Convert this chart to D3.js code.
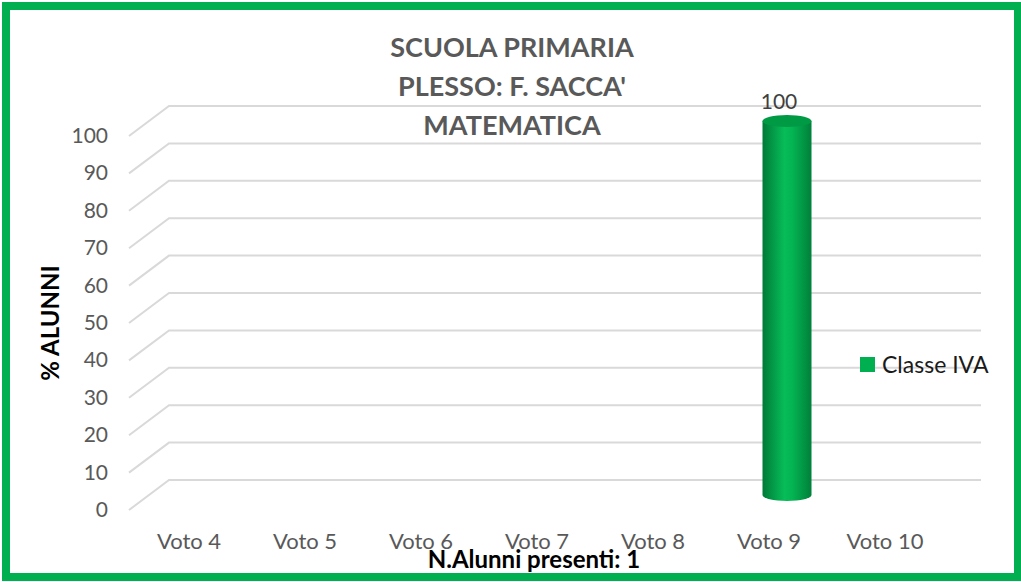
<!DOCTYPE html>
<html>
<head>
<meta charset="utf-8">
<script src="https://cdn.jsdelivr.net/npm/d3@7"></script>
<style>
  html, body { margin: 0; padding: 0; background: #fff; }
  svg { display: block; font-family: Lato, "Open Sans", sans-serif; }
</style>
</head>
<body>
<div id="chart"></div>
<script>
// data
var categories = ["Voto 4", "Voto 5", "Voto 6", "Voto 7", "Voto 8", "Voto 9", "Voto 10"];
var values = [null, null, null, null, null, 100, null];
var yTicks = [0, 10, 20, 30, 40, 50, 60, 70, 80, 90, 100];
var seriesName = "Classe IVA";
var titleLines = ["SCUOLA PRIMARIA", "PLESSO: F. SACCA'", "MATEMATICA"];
var yTitle = "% ALUNNI";
var xTitle = "N.Alunni presenti: 1";

var W = 1021, H = 582;
var depthX = 40, depthY = -30;   // 3d depth offset of the back wall

var svg = d3.select("#chart").append("svg").attr("width", W).attr("height", H);

var defs = svg.append("defs");
var grad = defs.append("linearGradient").attr("id", "cyl").attr("x1", "0%").attr("x2", "100%");
grad.append("stop").attr("offset", "0%").attr("stop-color", "#007a38");
grad.append("stop").attr("offset", "45%").attr("stop-color", "#06bd58");
grad.append("stop").attr("offset", "60%").attr("stop-color", "#04b553");
grad.append("stop").attr("offset", "100%").attr("stop-color", "#00803a");

// frame
svg.append("rect").attr("x", 6).attr("y", 6).attr("width", W - 9).attr("height", H - 11)
    .attr("fill", "none").attr("stroke", "#00b050").attr("stroke-width", 8);

var x = d3.scaleBand().domain(categories).range([129, 941]);
var y = d3.scaleLinear().domain([0, 100]).range([510, 136]);

// gridlines: diagonal on the side wall + horizontal on the back wall
var grid = svg.append("g");
yTicks.forEach(function(t) {
    grid.append("path")
        .attr("d", "M" + x.range()[0] + "," + y(t) +
                   "L" + (x.range()[0] + depthX) + "," + (y(t) + depthY) +
                   "L" + (x.range()[1] + depthX) + "," + (y(t) + depthY))
        .attr("fill", "none").attr("stroke", "#d9d9d9").attr("stroke-width", 2);
});

// y tick labels
svg.append("g").selectAll("text").data(yTicks).enter().append("text")
    .attr("x", 108).attr("y", function(d) { return y(d) + 7; })
    .attr("text-anchor", "end").attr("font-size", 21).attr("fill", "#595959")
    .text(function(d) { return d; });

// x labels
svg.append("g").selectAll("text").data(categories).enter().append("text")
    .attr("x", function(d) { return x(d) + x.bandwidth() / 2 + 2; }).attr("y", 549)
    .attr("text-anchor", "middle").attr("font-size", 22).attr("fill", "#595959")
    .text(function(d) { return d; });

// cylinders
var bw = 49, ry = 6;
var bars = categories.map(function(c, i) { return { cat: c, v: values[i] }; })
    .filter(function(d) { return d.v != null; });
var bar = svg.append("g").selectAll("g").data(bars).enter().append("g");
bar.each(function(d) {
    var g = d3.select(this);
    var cx = x(d.cat) + x.bandwidth() / 2 + depthX / 2;
    var yt = y(d.v) + depthY / 2, yb = y(0) + depthY / 2;
    var l = cx - bw / 2, r = cx + bw / 2;
    g.append("path")
        .attr("d", "M" + l + "," + yt + "L" + l + "," + yb +
                   "A" + (bw / 2) + "," + ry + " 0 0 0 " + r + "," + yb +
                   "L" + r + "," + yt + "Z")
        .attr("fill", "url(#cyl)");
    g.append("ellipse").attr("cx", cx).attr("cy", yt).attr("rx", bw / 2).attr("ry", ry)
        .attr("fill", "#009a44");
    g.append("text").attr("x", cx - 8).attr("y", yt - 12)
        .attr("text-anchor", "middle").attr("font-size", 21).attr("fill", "#404040")
        .text(d.v);
});

// title
svg.append("g").selectAll("text").data(titleLines).enter().append("text")
    .attr("x", 512).attr("y", function(d, i) { return 57 + i * 39; })
    .attr("text-anchor", "middle").attr("font-size", 27).attr("font-weight", "bold")
    .attr("fill", "#595959").text(function(d) { return d; });

// axis titles
svg.append("text").attr("transform", "translate(59,323) rotate(-90)")
    .attr("text-anchor", "middle").attr("font-size", 24).attr("font-weight", "bold")
    .attr("fill", "#000").text(yTitle);
svg.append("text").attr("x", 534).attr("y", 568)
    .attr("text-anchor", "middle").attr("font-size", 24).attr("font-weight", "bold")
    .attr("fill", "#000").text(xTitle);

// legend
var leg = svg.append("g").attr("transform", "translate(860,357)");
leg.append("rect").attr("width", 15).attr("height", 15).attr("fill", "#00b050");
leg.append("text").attr("x", 22).attr("y", 16).attr("font-size", 23).attr("fill", "#1a1a1a")
    .text(seriesName);
</script>
</body>
</html>
